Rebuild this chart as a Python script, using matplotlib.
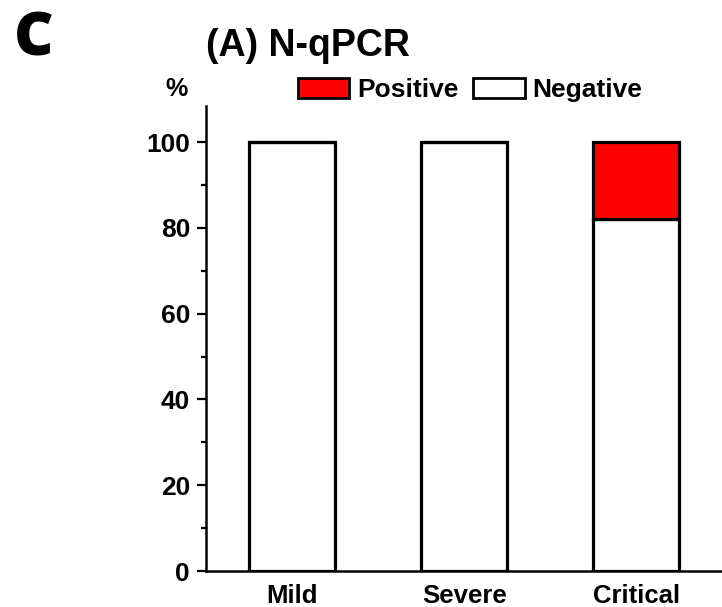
import matplotlib
matplotlib.use("Agg")
import matplotlib.pyplot as plt
import matplotlib.patches as mpatches
from matplotlib.ticker import MultipleLocator

# data: share of N-qPCR results per severity group (%)
grupos = ["Mild", "Severe", "Critical"]
negativos = [100, 100, 82]
positivos = [0, 0, 18]

plt.rcParams["font.family"] = ["Liberation Sans", "DejaVu Sans"]
plt.rcParams["font.weight"] = "bold"

fig = plt.figure(figsize=(7.22, 6.07), dpi=100)
ax = fig.add_axes([0.2853, 0.0593, 0.7154, 0.7661])

x = list(range(len(grupos)))
ax.bar(x, negativos, width=0.5, color="white", edgecolor="black", linewidth=2.3, zorder=2)
ax.bar(x, positivos, width=0.5, bottom=negativos, color="#ff0000", edgecolor="black",
       linewidth=2.3, zorder=2)

ax.set_xlim(-0.5, 2.5)
ax.set_ylim(0, 108.4)
ax.set_xticks(x)
ax.set_xticklabels(grupos, fontsize=18.5, fontweight="bold")
ax.yaxis.set_major_locator(MultipleLocator(20))
ax.yaxis.set_minor_locator(MultipleLocator(10))
for lbl in ax.get_yticklabels():
    lbl.set_fontsize(19)
    lbl.set_fontweight("bold")

ax.tick_params(axis="x", length=0, pad=9)
ax.tick_params(axis="y", which="major", direction="out", length=6.5, width=1.6, pad=5)
ax.tick_params(axis="y", which="minor", direction="out", length=3.6, width=1.6)
ax.spines["top"].set_visible(False)
ax.spines["right"].set_visible(False)
for s in ["left", "bottom"]:
    ax.spines[s].set_linewidth(1.8)

# titulos y etiqueta de unidad
fig.text(14 / 722, 1 - 10 / 607, "C", fontsize=44, fontweight="heavy",
         family=["Open Sans", "DejaVu Sans"], va="top", ha="left")
fig.text(206 / 722, 1 - 46 / 607, "(A) N-qPCR", fontsize=27, fontweight="bold",
         va="center", ha="left")
fig.text(176 / 722, 1 - 89 / 607, "%", fontsize=18, fontweight="bold",
         va="center", ha="center")

# leyenda
h_pos = mpatches.Patch(facecolor="#ff0000", edgecolor="black", linewidth=2, label="Positive")
h_neg = mpatches.Patch(facecolor="white", edgecolor="black", linewidth=2, label="Negative")
fig.legend(handles=[h_pos, h_neg], loc="upper left", bbox_to_anchor=(298 / 722, 1 - 78 / 607),
           ncol=2, frameon=False, handlelength=1.95, handleheight=0.8,
           handletextpad=0.3, columnspacing=0.55, borderpad=0, borderaxespad=0,
           prop={"weight": "bold", "size": 19})

fig.savefig("out.png", dpi=100)
